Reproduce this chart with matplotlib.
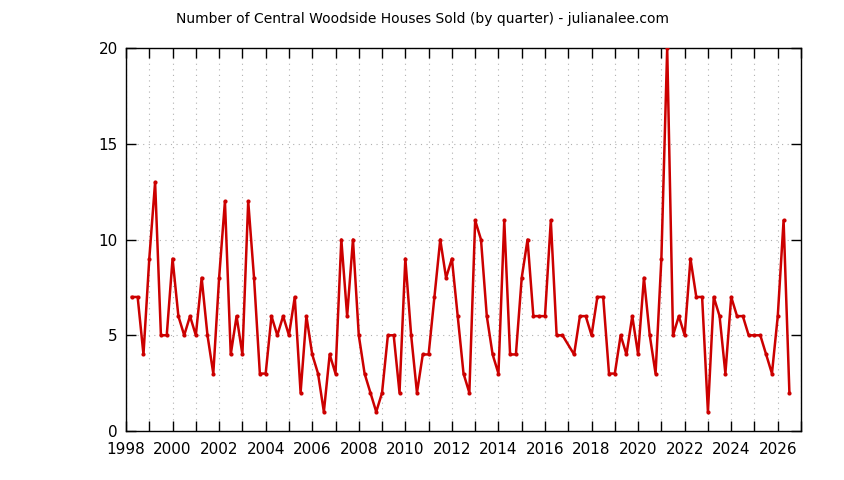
import matplotlib
matplotlib.use("Agg")
import matplotlib.pyplot as plt
from matplotlib.ticker import MultipleLocator, FuncFormatter
import numpy as np

# quarterly sales, 1998Q1 .. 2026Q2 (None = quarter missing from the data)
start_year = 1998
sold = [7, 7, 4, 9, 13, 5, 5, 9, 6, 5, 6, 5, 8, 5, 3, 8, 12, 4, 6, 4,
        12, 8, 3, 3, 6, 5, 6, 5, 7, 2, 6, 4, 3, 1, 4, 3, 10, 6, 10, 5,
        3, 2, 1, 2, 5, 5, 2, 9, 5, 2, 4, 4, 7, 10, 8, 9, 6, 3, 2, 11,
        10, 6, 4, 3, 11, 4, 4, 8, 10, 6, 6, 6, 11, 5, 5, None, 4, 6, 6, 5,
        7, 7, 3, 3, 5, 4, 6, 4, 8, 5, 3, 9, 20, 5, 6, 5, 9, 7, 7, 1,
        7, 6, 3, 7, 6, 6, 5, 5, 5, 4, 3, 6, 11, 2]

title = "Number of Central Woodside Houses Sold (by quarter) - julianalee.com"

# quarter k is plotted at the end of that quarter
xs = [start_year + 0.25 * (k + 1) for k, v in enumerate(sold) if v is not None]
ys = [v for v in sold if v is not None]

fig = plt.figure(figsize=(8.44, 4.8), dpi=100)
ax = fig.add_axes([0.1493, 0.102, 0.7998, 0.798])

ax.plot(xs, ys, color="#cc0000", linewidth=1.8, marker="o", markersize=3,
        markeredgewidth=0, zorder=3)

ax.set_xlim(1998, 2027)
ax.set_ylim(0, 20)
ax.xaxis.set_major_locator(MultipleLocator(1))
ax.xaxis.set_major_formatter(FuncFormatter(lambda v, p: "%d" % v if int(round(v)) % 2 == 0 else ""))
ax.yaxis.set_major_locator(MultipleLocator(5))

ax.grid(True, linestyle=(0, (1, 4)), color="#b0b0b0", linewidth=0.8)
ax.tick_params(direction="in", length=7, width=1, top=True, right=True,
               labelsize=11, colors="black")
ax.tick_params(axis="x", pad=8)
ax.tick_params(axis="y", pad=6)
for s in ax.spines.values():
    s.set_linewidth(1)

fig.text(0.5, 0.96, title, ha="center", va="center", fontsize=10)

fig.savefig("out.png", dpi=100)
